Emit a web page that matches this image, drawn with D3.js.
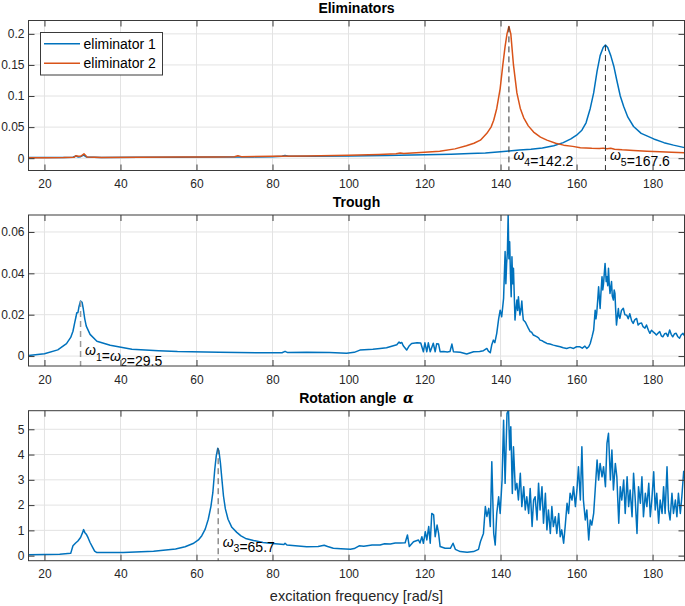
<!DOCTYPE html>
<html><head><meta charset="utf-8">
<script src="https://cdn.jsdelivr.net/npm/d3@7"></script>
<style>
body{margin:0;background:#fff}
svg{display:block}
text{font-family:"Liberation Sans",Arial,Helvetica,sans-serif}
</style>
</head><body>
<svg id="c" width="685" height="606"></svg>
<script>
// ---------------- DATA ----------------
const xTicks = [20, 40, 60, 80, 100, 120, 140, 160, 180];
const xDomain = [15.8, 188.4];

const elimYTicks = [0, 0.05, 0.1, 0.15, 0.2];
const elimYLabels = ["0", "0.05", "0.1", "0.15", "0.2"];
const troughYTicks = [0, 0.02, 0.04, 0.06];
const troughYLabels = ["0", "0.02", "0.04", "0.06"];
const angleYTicks = [0, 1, 2, 3, 4, 5];
const angleYLabels = ["0", "1", "2", "3", "4", "5"];

const seriesNames = ["eliminator 1", "eliminator 2"];

const elim1Freq = [15.8,20,25,27.5,28.3,28.8,29.5,30.3,31,35,45,55,65,75,80,82.5,83.3,84.2,90,100,110,120,127,132,136,140,142.2,145,148,151,154,156.5,158.5,160,161.4,162.5,163.6,164.5,165.4,166.2,167,167.6,168.2,169,169.8,170.6,171.5,172.4,173.5,175,177,180.3,183,185.5,188.4];
const elim1Vals = [0.001,0.001,0.0012,0.0015,0.0035,0.002,0.0025,0.005,0.002,0.0012,0.0014,0.0016,0.0018,0.0021,0.0024,0.003,0.0045,0.003,0.003,0.0037,0.0045,0.0055,0.0065,0.0075,0.0085,0.0105,0.0115,0.013,0.0145,0.0165,0.02,0.025,0.031,0.037,0.045,0.057,0.08,0.105,0.14,0.165,0.178,0.182,0.178,0.165,0.148,0.125,0.1,0.083,0.066,0.051,0.04,0.031,0.025,0.021,0.017];

const elim2Freq = [15.8,20,25,27.8,28.3,28.9,29.6,30.4,31.2,35,45,55,65,70,70.9,71.8,80,89,100,108,112.5,113.6,114.5,120,124,128,131,133,134.7,136.4,137.5,138.2,139,139.9,140.6,141.2,141.7,142.2,142.7,143.4,144.3,145.2,146.1,147.3,148.7,150.5,152.2,154.5,156.6,159,161,164,166,167,168,169,170,172,175,178.5,182,185,188.4];
const elim2Vals = [0.0008,0.0009,0.001,0.0015,0.004,0.003,0.0035,0.007,0.002,0.0013,0.0015,0.0018,0.002,0.0024,0.004,0.0025,0.003,0.0037,0.0048,0.006,0.007,0.0085,0.0075,0.0095,0.011,0.015,0.02,0.024,0.029,0.04,0.05,0.061,0.08,0.112,0.15,0.18,0.2,0.212,0.2,0.15,0.105,0.08,0.065,0.052,0.042,0.034,0.029,0.024,0.021,0.019,0.0168,0.0158,0.0155,0.0162,0.0152,0.016,0.0145,0.0135,0.0125,0.0113,0.0102,0.0095,0.0087];

const troughFreq = [15.8,20,23.5,25.8,26.9,27.5,28,28.3,28.5,28.8,29.1,29.5,29.9,30.2,30.6,31,32,33.8,37.3,43,50,55,66,77.6,82.5,83.3,84,89,95,99.5,101.5,103,106.4,108.3,110,112.7,113.3,113.6,114,114.4,115.3,116,116.6,118,119,119.7,120.1,120.6,121,121.5,122.3,122.8,123.2,123.7,124.1,125,126,126.7,127.2,127.6,129.4,131.1,132.9,134.5,135.5,136.4,136.8,137.3,137.7,138.1,138.5,139,139.5,139.9,140.3,140.8,141.2,141.4,141.6,141.8,142,142.2,142.4,142.6,142.8,143,143.2,143.4,143.6,143.8,144,144.3,144.5,144.7,144.9,145.1,145.4,145.6,145.8,146,146.5,146.9,147.3,147.8,148.2,148.6,149.1,149.5,150,150.4,151,151.5,152.2,153,153.9,154.8,155.7,156.5,157.4,158.3,159.2,160,160.9,161.5,162.2,162.7,163.2,163.6,164.1,164.5,164.9,165.1,165.3,165.6,165.8,166,166.2,166.4,166.7,166.9,167.1,167.3,167.5,167.8,168,168.2,168.4,168.6,168.8,169,169.2,169.4,169.7,169.9,170.1,170.3,170.5,170.8,171,171.2,171.4,171.8,172.3,172.7,173.2,173.6,174,174.5,174.9,175.3,175.8,176.2,176.6,177.1,177.5,178,178.4,178.9,179.3,179.7,180.1,180.6,181,181.5,181.9,182.3,182.7,183.2,183.6,184,184.5,184.9,185.3,185.8,186.2,186.6,187.1,187.5,188,188.4];
const troughVals = [0.0003,0.0011,0.003,0.006,0.009,0.012,0.0165,0.019,0.021,0.021,0.024,0.0266,0.026,0.023,0.018,0.0145,0.0105,0.0072,0.0052,0.0033,0.0026,0.0022,0.0019,0.0016,0.0016,0.0023,0.0017,0.0019,0.0017,0.0014,0.0018,0.0029,0.0033,0.0037,0.004,0.0055,0.0068,0.0062,0.0066,0.005,0.0029,0.005,0.0061,0.0064,0.0063,0.0021,0.0064,0.0021,0.0064,0.0021,0.0062,0.0021,0.006,0.0058,0.0021,0.0022,0.002,0.0022,0.0058,0.0021,0.0018,0.001,0.0021,0.0022,0.0026,0.0037,0.0024,0.0016,0.0055,0.0077,0.0065,0.011,0.018,0.0222,0.019,0.0279,0.0505,0.035,0.0448,0.05,0.0685,0.047,0.0553,0.04,0.0287,0.048,0.035,0.0424,0.03,0.0174,0.022,0.0271,0.022,0.0287,0.024,0.0198,0.023,0.0266,0.021,0.0174,0.0165,0.015,0.0135,0.0118,0.0115,0.0102,0.0098,0.0094,0.0088,0.0077,0.0074,0.0068,0.0061,0.0058,0.0053,0.0049,0.0045,0.004,0.0037,0.0042,0.0037,0.0045,0.0045,0.0038,0.0048,0.0037,0.0045,0.0061,0.0095,0.0126,0.0222,0.018,0.0206,0.028,0.0335,0.028,0.023,0.03,0.0384,0.032,0.035,0.04,0.0448,0.036,0.0384,0.034,0.0424,0.035,0.0303,0.033,0.036,0.029,0.0271,0.032,0.0303,0.022,0.015,0.02,0.023,0.019,0.0182,0.022,0.0231,0.02,0.0198,0.018,0.0205,0.017,0.0158,0.0175,0.0182,0.015,0.0158,0.016,0.0142,0.0135,0.015,0.0125,0.011,0.0125,0.0118,0.011,0.0102,0.0112,0.0118,0.0098,0.0093,0.0108,0.011,0.0095,0.0126,0.0105,0.0093,0.0108,0.011,0.0095,0.0086,0.0102,0.011,0.0098];

const angleFreq = [15.8,20,24,26.9,27.5,28.2,28.8,29.5,30,30.3,30.6,31,31.5,32,32.6,33.2,33.8,40.7,48.7,54.5,57,59.1,60.5,61.4,62.3,63.1,63.8,64.3,64.8,65.2,65.6,65.9,66.3,66.7,67.1,67.6,68.3,69.3,70.6,71.7,72.9,75,77.5,80,83,83.3,83.8,86,89,92,93.6,94.5,96,98,100.5,101.5,102.8,104,106.2,108.3,109.5,111,112.3,113.6,114.9,115.5,116,117.1,118.4,118.8,119.3,119.7,120.2,120.6,121.1,121.5,121.9,122.4,122.8,123.3,123.7,124.1,125.4,126.8,127.5,128.1,129.4,131.2,132.9,134.2,134.7,135.5,136,136.4,136.9,137.3,137.7,138.2,138.6,139,139.5,139.9,140.4,140.8,141.2,141.7,142.1,142.4,142.7,143.1,143.4,143.9,144.3,144.7,145.2,145.6,146.1,146.5,146.9,147.4,147.8,148.3,148.7,149.1,149.6,150,150.4,150.9,151.3,151.8,152.2,152.6,153.1,153.5,153.9,154.4,154.8,155.3,155.7,156.1,156.6,157,157.5,157.9,158.3,158.8,159.2,159.7,160.1,160.5,161,161.4,161.8,162.3,162.7,163.2,163.6,164,164.5,164.9,165.4,165.8,166.2,166.7,167.1,167.6,168,168.4,168.9,169.3,169.7,170.2,170.6,171.1,171.5,171.9,172.4,172.8,173.3,173.7,174.1,174.6,175,175.4,175.9,176.3,176.8,177.2,177.6,178.1,178.5,179,179.4,179.8,180.3,180.7,181.1,181.6,182,182.5,182.9,183.3,183.8,184.2,184.6,185.1,185.5,186,186.4,186.8,187.3,187.7,188.2];
const angleVals = [0.04,0.05,0.06,0.09,0.39,0.5,0.58,0.72,0.9,1.03,0.92,0.85,0.7,0.52,0.35,0.18,0.12,0.12,0.17,0.26,0.35,0.48,0.62,0.79,1.05,1.44,1.95,2.49,3.4,3.95,4.25,4.15,3.66,3.0,2.36,1.85,1.44,1.12,0.92,0.78,0.68,0.6,0.52,0.48,0.44,0.49,0.42,0.39,0.35,0.36,0.41,0.36,0.29,0.27,0.25,0.28,0.39,0.37,0.42,0.42,0.47,0.46,0.5,0.5,0.51,0.82,0.36,0.55,0.62,0.5,0.75,0.49,0.95,0.62,1.15,0.49,1.67,1.61,0.75,1.21,0.88,0.36,0.29,0.29,0.49,0.25,0.16,0.13,0.16,0.25,0.55,0.88,1.94,1.55,1.87,1.15,3.72,0.88,0.42,1.67,2.33,1.67,2.99,5.36,2.86,5.63,5.76,4.18,5.1,2.46,4.31,2.6,2.86,2.2,3.26,1.94,2.73,1.81,2.33,1.67,2.66,1.15,2.2,2.33,1.41,2.86,1.81,2.73,1.28,2.47,1.02,1.81,0.88,1.94,1.15,1.54,0.88,1.67,0.75,1.02,0.49,1.15,2.07,1.67,2.47,2.2,2.73,1.94,2.6,3.52,2.2,4.31,2.2,1.41,1.81,0.62,1.41,1.21,1.67,2.6,3.78,2.99,3.65,3.12,3.52,2.73,4.44,4.84,2.99,4.18,2.6,3.65,3.12,1.28,2.73,2.2,2.99,1.67,3.12,1.94,2.6,1.54,3.26,2.33,0.88,2.73,2.07,3.12,1.54,2.47,1.94,2.86,1.54,2.2,3.32,1.81,2.47,1.28,2.2,1.67,2.73,1.67,3.52,1.81,1.41,2.47,1.67,2.2,1.54,2.47,1.67,2.33,3.36];

// annotated resonances
const elimMarkFreqs = [142.2, 167.6];
const elimMarkPeaks = [0.212, 0.182];
const elimMarkIdx = ["4", "5"];
const troughMarkFreq = 29.5, troughMarkPeak = 0.0266;
const angleMarkFreq = 65.7, angleMarkPeak = 4.25;

// ---------------- DRAW ----------------
const BLUE = "#0072BD", ORANGE = "#D95319";
const svg = d3.select("#c");
const L = 28.5, R = 684.5;
const x = d3.scaleLinear().domain(xDomain).range([L, R]);

function makePanel(id, top, bottom, yDomain) {
  const y = d3.scaleLinear().domain(yDomain).range([bottom, top]);
  const g = svg.append("g");
  svg.append("clipPath").attr("id", "clip" + id).append("rect")
    .attr("x", L).attr("y", top).attr("width", R - L).attr("height", bottom - top);
  return {g, y, top, bottom};
}

function gridPanel(p, yTicks) {
  const {g, y, top, bottom} = p;
  g.append("g").selectAll("line").data(xTicks).join("line")
    .attr("x1", d => x(d)).attr("x2", d => x(d)).attr("y1", top).attr("y2", bottom)
    .attr("stroke", "#e3e3e3").attr("stroke-width", 1);
  g.append("g").selectAll("line").data(yTicks).join("line")
    .attr("y1", d => y(d)).attr("y2", d => y(d)).attr("x1", L).attr("x2", R)
    .attr("stroke", "#e3e3e3").attr("stroke-width", 1);
  p.plot = g.append("g").attr("clip-path", `url(#clip${p.id})`);
}

function finishPanel(p, yTicks, yLabels, title, alpha) {
  const {g, y, top, bottom} = p;
  g.append("rect").attr("x", L).attr("y", top).attr("width", R - L).attr("height", bottom - top)
    .attr("fill", "none").attr("stroke", "#3a3a3a").attr("stroke-width", 1);
  const axB = g.append("g").attr("transform", `translate(0,${bottom})`)
    .call(d3.axisBottom(x).tickValues(xTicks).tickFormat(d3.format("d")).tickSizeInner(-6).tickSizeOuter(0).tickPadding(9));
  const axT = g.append("g").attr("transform", `translate(0,${top})`)
    .call(d3.axisTop(x).tickValues(xTicks).tickFormat("").tickSizeInner(-6).tickSizeOuter(0));
  const axL = g.append("g").attr("transform", `translate(${L},0)`)
    .call(d3.axisLeft(y).tickValues(yTicks).tickFormat((d, i) => yLabels[i]).tickSizeInner(-6).tickSizeOuter(0).tickPadding(4));
  const axR = g.append("g").attr("transform", `translate(${R},0)`)
    .call(d3.axisRight(y).tickValues(yTicks).tickFormat("").tickSizeInner(-6).tickSizeOuter(0));
  [axB, axT, axL, axR].forEach(a => {
    a.select(".domain").remove();
    a.selectAll("line").attr("stroke", "#3a3a3a");
    a.selectAll("text").attr("fill", "#262626").attr("font-size", 12)
      .attr("font-family", '"Liberation Sans",Arial,sans-serif');
  });
  const t = svg.append("text").attr("x", (L + R) / 2).attr("y", top - 8)
    .attr("text-anchor", "middle").attr("font-weight", "bold").attr("font-size", 14)
    .attr("fill", "#000").text(title);
  if (alpha) {
    t.append("tspan").text("\u2009 ");
    t.append("tspan").attr("font-family", '"DejaVu Serif",serif').attr("font-style", "italic")
      .attr("font-weight", "bold").text("α");
  }
}

function drawLine(plot, y, fx, fv, color) {
  const pts = fx.map((f, i) => [f, fv[i]]);
  plot.append("path").datum(pts)
    .attr("d", d3.line().x(d => x(d[0])).y(d => y(d[1])))
    .attr("fill", "none").attr("stroke", color).attr("stroke-width", 1.5)
    .attr("stroke-linejoin", "round");
}

function dashed(g, y, f, peak, bottom, color, width) {
  g.append("line").attr("x1", x(f)).attr("x2", x(f)).attr("y1", y(peak)).attr("y2", bottom)
    .attr("stroke", color).attr("stroke-width", width).attr("stroke-dasharray", "6,4");
}

function omegaLabel(g, px, py, parts) {
  const t = g.append("text").attr("x", px).attr("y", py).attr("font-size", 14).attr("fill", "#000");
  parts.forEach(p => {
    if (p.w) {
      t.append("tspan").attr("font-style", "italic").text("ω");
      t.append("tspan").attr("font-size", 10.5).attr("dy", 5.5).text(p.w);
      t.append("tspan").attr("dy", -5.5).text("");
    } else {
      t.append("tspan").text(p.s);
    }
  });
}

// Panel 1
const p1 = makePanel(1, 20.5, 170.5, [-0.0198, 0.2215]); p1.id = 1;
gridPanel(p1, elimYTicks);
drawLine(p1.plot, p1.y, elim1Freq, elim1Vals, BLUE);
drawLine(p1.plot, p1.y, elim2Freq, elim2Vals, ORANGE);
elimMarkFreqs.forEach((f, i) => {
  dashed(p1.g, p1.y, f, elimMarkPeaks[i], p1.bottom, "#333", 1);
  omegaLabel(p1.g, x(f) + 4.5, p1.y(0) + 2, [{w: elimMarkIdx[i]}, {s: "=" + f}]);
});
finishPanel(p1, elimYTicks, elimYLabels, "Eliminators", false);

// legend
const lg = svg.append("g");
lg.append("rect").attr("x", 40.5).attr("y", 32.5).attr("width", 122).attr("height", 42.5)
  .attr("fill", "#fff").attr("stroke", "#3a3a3a").attr("stroke-width", 1);
[BLUE, ORANGE].forEach((c, i) => {
  const yy = 43.7 + i * 19.6;
  lg.append("line").attr("x1", 44).attr("x2", 80).attr("y1", yy).attr("y2", yy)
    .attr("stroke", c).attr("stroke-width", 1.5);
  lg.append("text").attr("x", 83.5).attr("y", yy + 5).attr("font-size", 14).attr("fill", "#000")
    .text(seriesNames[i]);
});

// Panel 2
const p2 = makePanel(2, 215, 366, [-0.0048, 0.0682]); p2.id = 2;
gridPanel(p2, troughYTicks);
drawLine(p2.plot, p2.y, troughFreq, troughVals, BLUE);
dashed(p2.g, p2.y, troughMarkFreq, troughMarkPeak, p2.bottom, "#9a9a9a", 1.5);
omegaLabel(p2.g, x(troughMarkFreq) + 4.5, p2.y(0) - 1,
  [{w: "1"}, {s: "="}, {w: "2"}, {s: "=" + troughMarkFreq}]);
finishPanel(p2, troughYTicks, troughYLabels, "Trough", false);

// Panel 3
const p3 = makePanel(3, 410.7, 560.7, [-0.2, 5.735]); p3.id = 3;
gridPanel(p3, angleYTicks);
drawLine(p3.plot, p3.y, angleFreq, angleVals, BLUE);
dashed(p3.g, p3.y, angleMarkFreq, angleMarkPeak, p3.bottom, "#555", 1);
omegaLabel(p3.g, x(angleMarkFreq) + 4.5, p3.y(0.36), [{w: "3"}, {s: "=" + angleMarkFreq}]);
finishPanel(p3, angleYTicks, angleYLabels, "Rotation angle", true);

// x label
svg.append("text").attr("x", (L + R) / 2).attr("y", 601).attr("text-anchor", "middle")
  .attr("font-size", 14.5).attr("fill", "#262626").text("excitation frequency [rad/s]");
</script>
</body></html>
